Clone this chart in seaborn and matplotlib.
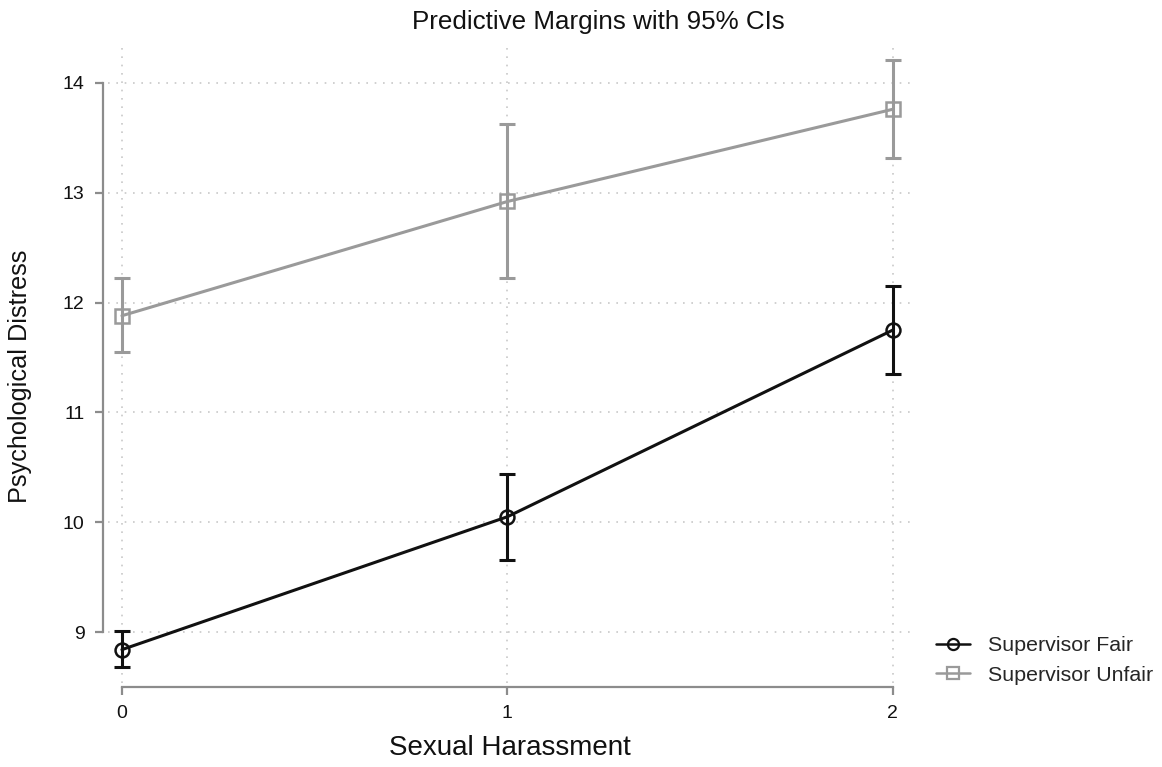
import numpy as np
import pandas as pd
import matplotlib
matplotlib.use("Agg")
import matplotlib.pyplot as plt
from matplotlib.lines import Line2D
import seaborn as sns

# Predictive margins of psychological distress with 95% confidence limits
harassment = [0, 1, 2]
groups = ["Supervisor Fair", "Supervisor Unfair"]
fair_margin = [8.84, 10.05, 11.75]
fair_lower = [8.68, 9.66, 11.35]
fair_upper = [9.01, 10.44, 12.15]
unfair_margin = [11.88, 12.92, 13.76]
unfair_lower = [11.55, 12.22, 13.32]
unfair_upper = [12.22, 13.63, 14.21]
y_ticks = [9, 10, 11, 12, 13, 14]
x_ticks = [0, 1, 2]

# Long-form table: each point carries its lower bound, estimate and upper bound,
# so the median gives the margin and the min/max give the interval.
rows = []
for grp, est, lo, hi in [
    (groups[0], fair_margin, fair_lower, fair_upper),
    (groups[1], unfair_margin, unfair_lower, unfair_upper),
]:
    for x, e, l, h in zip(harassment, est, lo, hi):
        for v in (l, e, h):
            rows.append({"Sexual Harassment": x, "Psychological Distress": v, "group": grp})
df = pd.DataFrame(rows)

sns.set_style("white")
plt.rcParams["font.family"] = ["Liberation Sans", "DejaVu Sans"]

fig = plt.figure(figsize=(11.62, 7.67), dpi=100)
ax = fig.add_axes([0.093, 0.1095, 0.692, 0.832])

colors = {groups[0]: "#111111", groups[1]: "#9a9a9a"}
markers = {groups[0]: "o", groups[1]: "s"}

for grp in groups:
    sns.lineplot(
        data=df[df["group"] == grp], x="Sexual Harassment", y="Psychological Distress",
        estimator="median", errorbar=lambda v: (v.min(), v.max()),
        err_style="bars",
        err_kws={"capsize": 6, "elinewidth": 2.2, "capthick": 2.2, "zorder": 2},
        color=colors[grp], marker=markers[grp], markersize=10,
        markerfacecolor="none", markeredgecolor=colors[grp], markeredgewidth=1.8,
        linewidth=2.2, ax=ax, zorder=3,
    )

ax.set_xlim(-0.036, 2.05)
ax.set_ylim(8.536, 14.346)
ax.set_xticks(x_ticks)
ax.set_yticks(y_ticks)
ax.set_xticklabels([str(t) for t in x_ticks])
ax.set_yticklabels([str(t) for t in y_ticks])
ax.grid(True, linestyle=(0, (1, 4)), color="#c8c8c8", linewidth=1.2)
ax.set_axisbelow(True)

for side in ("top", "right"):
    ax.spines[side].set_visible(False)
ax.spines["left"].set_position(("outward", 4))
ax.spines["bottom"].set_position(("outward", 3))
ax.spines["left"].set_bounds(9, 14)
ax.spines["bottom"].set_bounds(0, 2)
for side in ("left", "bottom"):
    ax.spines[side].set_color("#8c8c8c")
    ax.spines[side].set_linewidth(1.6)
ax.tick_params(axis="both", colors="#8c8c8c", labelcolor="#111111",
               labelsize=14, length=6, width=1.6, direction="out",
               left=True, bottom=True, pad=7)

ax.set_xlabel("Sexual Harassment", fontsize=20, color="#111111", labelpad=9)
ax.set_ylabel("Psychological Distress", fontsize=18.2, color="#111111")
ax.yaxis.set_label_coords(-0.095, 0.48)
fig.text(0.515, 0.971, "Predictive Margins with 95% CIs", fontsize=18.7,
         color="#111111", ha="center", va="center")

handles = [
    Line2D([0], [0], color=colors[g], marker=markers[g], markerfacecolor="none",
           markeredgecolor=colors[g], markersize=8, linewidth=1.8, markeredgewidth=1.6)
    for g in groups
]
fig.legend(handles, groups, loc="center left", bbox_to_anchor=(0.789, 0.139),
           frameon=False, fontsize=15.4, handlelength=1.6, labelspacing=0.5,
           handletextpad=0.85)

fig.savefig("out.png", dpi=100, facecolor="white")
